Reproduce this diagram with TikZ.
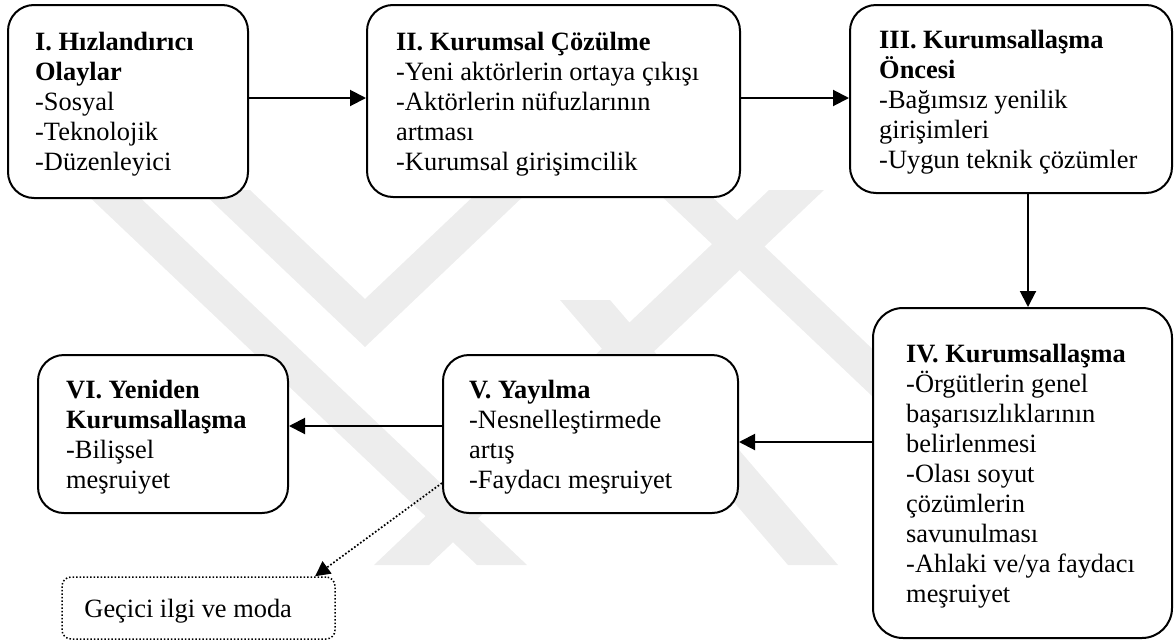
\documentclass[tikz,border=0pt]{standalone}
\usepackage{fontspec}
\setmainfont{Liberation Serif}
\usetikzlibrary{arrows.meta}
\definecolor{wm}{gray}{0.93}
\tikzset{
  box/.style={draw, fill=white, line width=2pt, rounded corners=26pt, inner sep=0pt},
  gbox/.style={draw, fill=white, line width=1.5pt, dotted, rounded corners=9pt, inner sep=0pt},
  txt/.style={anchor=west, align=left, inner sep=0pt, yshift=-3pt, font=\fontsize{26.4}{30}\selectfont},
  arr/.style={line width=2pt, -{Triangle[length=16pt,width=16pt]}},
  darr/.style={line width=1.7pt, dotted, -{Triangle[length=15pt,width=15pt]}},
}
\begin{document}
\begin{tikzpicture}[x=1pt,y=-1pt]
\useasboundingbox (0,0) rectangle (1175,643);
% faint background watermark
\begin{scope}
  \clip (0,190) rectangle (1175,565);
  \fill[wm] (82,190) -- (132,190) -- (527,565) -- (477,565) -- cycle;
  \fill[wm] (200,190) -- (250,190) -- (365,299) -- (480,190) -- (530,190) -- (365,347) -- cycle;
  \fill[wm] (769,190) -- (824,190) -- (429,565) -- (374,565) -- cycle;
  \fill[wm] (560,300) -- (610,300) -- (838,565) -- (788,565) -- cycle;
  \fill[wm] (655,190) -- (705,190) -- (1100,565) -- (1050,565) -- cycle;
\end{scope}
% boxes
\node[box, minimum width=240pt, minimum height=193pt] (b1) at (128,101.5) {};
\node[txt] (t1) at ([xshift=28pt]b1.west) {\textbf{I. Hızlandırıcı}\\\textbf{Olaylar}\\-Sosyal\\-Teknolojik\\-Düzenleyici};
\node[box, minimum width=373pt, minimum height=192pt] (b2) at (553.5,101) {};
\node[txt] (t2) at ([xshift=30pt]b2.west) {\textbf{II. Kurumsal Çözülme}\\-Yeni aktörlerin ortaya çıkışı\\-Aktörlerin nüfuzlarının\\artması\\-Kurumsal girişimcilik};
\node[box, minimum width=322pt, minimum height=188pt] (b3) at (1011,99) {};
\node[txt] (t3) at ([xshift=30pt]b3.west) {\textbf{III. Kurumsallaşma}\\\textbf{Öncesi}\\-Bağımsız yenilik\\girişimleri\\-Uygun teknik çözümler};
\node[box, minimum width=299pt, minimum height=330pt, rounded corners=30pt] (b4) at (1022.5,473) {};
\node[txt] (t4) at ([xshift=34pt]b4.west) {\textbf{IV. Kurumsallaşma}\\-Örgütlerin genel\\başarısızlıklarının\\belirlenmesi\\-Olası soyut\\çözümlerin\\savunulması\\-Ahlaki ve/ya faydacı\\meşruiyet};
\node[box, minimum width=295pt, minimum height=158pt] (b5) at (590.5,434) {};
\node[txt] (t5) at ([xshift=27pt]b5.west) {\textbf{V. Yayılma}\\-Nesnelleştirmede\\artış\\-Faydacı meşruiyet};
\node[box, minimum width=250pt, minimum height=158pt] (b6) at (163,434) {};
\node[txt] (t6) at ([xshift=29pt]b6.west) {\textbf{VI. Yeniden}\\\textbf{Kurumsallaşma}\\-Bilişsel\\meşruiyet};
\node[gbox, minimum width=273pt, minimum height=62pt] (g) at (198.5,608) {};
\node[txt] (tg) at ([xshift=23pt]g.west) {Geçici ilgi ve moda};
% connectors
\draw[arr] (b1.east |- 0,98) -- (b2.west |- 0,98);
\draw[arr] (b2.east |- 0,98) -- (b3.west |- 0,98);
\draw[arr] (b3.south -| 1028,0) -- (b4.north -| 1028,0);
\draw[arr] (b4.west |- 0,442) -- (b5.east |- 0,442);
\draw[arr] (b5.west |- 0,426) -- (b6.east |- 0,426);
\draw[darr] (b5.west |- 0,483) -- (g.north -| 315,0);
\end{tikzpicture}
\end{document}
